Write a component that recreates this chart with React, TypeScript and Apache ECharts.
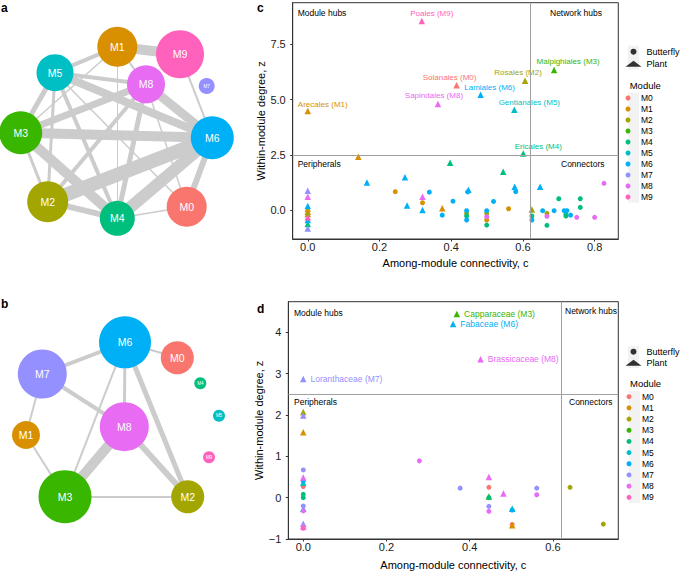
import React, { useEffect, useRef } from "react";
import * as echarts from "echarts";

// ---------- data ----------
const MODULES = ["M0", "M1", "M2", "M3", "M4", "M5", "M6", "M7", "M8", "M9"];
const MODULE_COLORS = ["#F8766D", "#D89000", "#A3A500", "#39B600", "#00BF7D", "#00BFC4", "#00B0F6", "#9590FF", "#E76BF3", "#FF62BC"];

// panel c: [module, among-module connectivity c, within-module degree z]
const cButterflies: [string, number, number][] = [
  ["M1", 0.244, 0.83], ["M1", 0.32, 0.33], ["M6", 0.339, 0.81], ["M6", 0.375, -0.23],
  ["M6", 0.405, 0.4], ["M6", 0.446, 0.82], ["M6", 0.443, -0.03], ["M2", 0.443, -0.15],
  ["M4", 0.443, -0.27], ["M6", 0.443, -0.45], ["M6", 0.518, 0.39], ["M6", 0.499, -0.03],
  ["M2", 0.499, -0.15], ["M8", 0.499, -0.3], ["M1", 0.499, -0.45], ["M4", 0.499, -0.68],
  ["M1", 0.56, 0.06], ["M6", 0.58, 0.83], ["M4", 0.625, -0.27], ["M6", 0.625, -0.45],
  ["M6", 0.655, -0.03], ["M2", 0.667, -0.15], ["M8", 0.667, -0.28], ["M4", 0.667, -0.69],
  ["M6", 0.687, -0.03], ["M4", 0.7, 0.51], ["M6", 0.715, -0.03], ["M6", 0.723, -0.03],
  ["M4", 0.72, -0.2], ["M4", 0.72, -0.27], ["M6", 0.733, -0.23], ["M8", 0.75, -0.33],
  ["M4", 0.76, 0.51], ["M4", 0.76, 0.12], ["M8", 0.8, -0.33], ["M8", 0.826, 1.21],
];
const cPlants: [string, number, number][] = [
  ["M1", 0.141, 2.41], ["M6", 0.165, 1.25], ["M6", 0.271, 1.48], ["M6", 0.277, 0.21],
  ["M8", 0.32, 0.6], ["M6", 0.32, 0.0], ["M1", 0.375, 0.08], ["M4", 0.397, 2.14],
  ["M6", 0.448, 0.92], ["M4", 0.545, 1.73], ["M6", 0.577, 1.05], ["M2", 0.625, 0.02],
  ["M6", 0.648, 1.05],
  ["M7", 0, 0.87], ["M8", 0, 0.6], ["M6", 0, 0.18], ["M1", 0, 0.05], ["M1", 0, -0.08],
  ["M2", 0, -0.18], ["M9", 0, -0.33], ["M6", 0, -0.45], ["M4", 0, -0.63], ["M7", 0, -0.83],
];
const cHubPlants: [string, number, number, string][] = [
  ["M9", 0.318, 8.55, "Poales (M9)"],
  ["M3", 0.687, 6.33, "Malpighiales (M3)"],
  ["M2", 0.606, 5.85, "Rosales (M2)"],
  ["M0", 0.415, 5.64, "Solanales (M0)"],
  ["M6", 0.482, 5.22, "Lamiales (M6)"],
  ["M8", 0.363, 4.8, "Sapindales (M8)"],
  ["M1", 0, 4.48, "Arecales (M1)"],
  ["M5", 0.576, 4.54, "Gentianales (M5)"],
  ["M4", 0.601, 2.56, "Ericales (M4)"],
];

// panel d
const dButterflies: [string, number, number][] = [
  ["M7", 0, 0.67], ["M6", 0, 0.4], ["M0", 0, 0.27], ["M4", 0, 0.08], ["M4", 0, 0.0],
  ["M7", 0, -0.2], ["M8", 0, -0.32], ["M9", 0, -0.74],
  ["M8", 0.279, 0.89], ["M7", 0.377, 0.23], ["M0", 0.446, 0.25], ["M4", 0.446, 0.0],
  ["M7", 0.446, -0.21], ["M8", 0.446, -0.33], ["M6", 0.502, -0.3], ["M0", 0.502, -0.65],
  ["M7", 0.561, 0.23], ["M8", 0.561, 0.07], ["M2", 0.641, 0.25], ["M2", 0.721, -0.64],
];
const dPlants: [string, number, number][] = [
  ["M2", 0, 2.07], ["M7", 0, 1.99], ["M1", 0, 1.58], ["M8", 0, 0.49], ["M5", 0, 0.36],
  ["M5", 0, -0.27], ["M7", 0, -0.63], ["M8", 0, -0.7],
  ["M8", 0.446, 0.5], ["M3", 0.446, 0.03], ["M8", 0.481, 0.1], ["M5", 0.502, -0.27],
  ["M1", 0.502, -0.67],
];
const dHubPlants: [string, number, number, string][] = [
  ["M3", 0.369, 4.44, "Capparaceae (M3)"],
  ["M6", 0.36, 4.2, "Fabaceae (M6)"],
  ["M8", 0.426, 3.35, "Brassicaceae (M8)"],
  ["M7", 0, 2.87, "Loranthaceae (M7)"],
];

const C_TICKS_X = [0, 0.2, 0.4, 0.6, 0.8];
const C_TICKS_Y = [0, 2.5, 5, 7.5];
const D_TICKS_X = [0, 0.2, 0.4, 0.6];
const D_TICKS_Y = [-1, 0, 1, 2, 3, 4];
const C_THRESHOLD = 0.62;
const Z_THRESHOLD = 2.5;

// module networks: [module, layout x, layout y, module size]
const netANodes: [string, number, number, number][] = [
  ["M1", 117.3, 46.7, 40], ["M9", 180, 54.3, 48], ["M5", 55, 72.7, 37], ["M8", 146, 84.3, 38],
  ["M7", 206.7, 86, 16], ["M3", 20.7, 132.7, 43], ["M6", 212.3, 137.7, 43], ["M2", 47.7, 201.7, 41],
  ["M4", 117.3, 218.3, 35], ["M0", 186.7, 206.7, 40],
];
// [source, target, link strength]
const netALinks: [string, string, number][] = [
  ["M1", "M9", 10], ["M1", "M5", 4], ["M1", "M3", 1.5], ["M1", "M4", 1], ["M1", "M8", 2],
  ["M5", "M3", 5], ["M5", "M2", 3], ["M5", "M4", 4], ["M5", "M0", 1.5], ["M5", "M8", 4],
  ["M5", "M6", 8], ["M3", "M8", 7], ["M3", "M6", 10], ["M3", "M4", 10], ["M3", "M2", 3],
  ["M2", "M8", 4], ["M2", "M6", 14], ["M2", "M4", 6], ["M4", "M8", 5], ["M4", "M6", 12],
  ["M4", "M0", 1.5], ["M8", "M6", 9], ["M8", "M0", 1.5], ["M6", "M0", 6], ["M6", "M9", 2],
];
const netBNodes: [string, number, number, number][] = [
  ["M6", 125, 62.3, 52], ["M0", 177.3, 77.7, 33], ["M7", 42.3, 94, 49], ["M4", 200.3, 103.3, 12],
  ["M5", 219, 135.7, 12], ["M8", 124.3, 146.7, 49], ["M1", 26, 155, 28], ["M9", 209, 177.3, 12],
  ["M3", 65, 216.7, 53], ["M2", 187.7, 216.7, 33],
];
const netBLinks: [string, string, number][] = [
  ["M6", "M7", 4], ["M6", "M0", 2], ["M6", "M8", 3], ["M6", "M3", 2], ["M6", "M2", 5],
  ["M7", "M8", 4], ["M7", "M1", 2], ["M1", "M3", 2], ["M8", "M3", 10], ["M8", "M2", 6],
  ["M3", "M2", 2],
];

// ---------- styling / placement ----------
const FONT = "'Liberation Sans', Arial, Helvetica, sans-serif";
const colorOf = (m: string) => MODULE_COLORS[MODULES.indexOf(m)];
const C_LABEL_NUDGE: Record<string, [number, number]> = {
  "Poales (M9)": [10, -8],
  "Malpighiales (M3)": [14, -9],
  "Rosales (M2)": [-7, -8],
  "Solanales (M0)": [-7, -8],
  "Lamiales (M6)": [9, -7],
  "Sapindales (M8)": [-4, -8],
  "Arecales (M1)": [15, -7],
  "Gentianales (M5)": [15, -7],
  "Ericales (M4)": [15, -7],
};
const CIRCLE = 5;
const TRI = 6.5;

function panelSeries(
  axis: number,
  butterflies: [string, number, number][],
  plants: [string, number, number][],
  hubs: [string, number, number, string][],
  labelMode: "nudge" | "right"
) {
  return MODULES.map((m) => {
    const col = colorOf(m);
    const data: any[] = [];
    butterflies.filter((d) => d[0] === m).forEach((d) => data.push({ value: [d[1], d[2]], symbol: "circle", symbolSize: CIRCLE }));
    plants.filter((d) => d[0] === m).forEach((d) => data.push({ value: [d[1], d[2]], symbol: "triangle", symbolSize: TRI }));
    hubs.filter((d) => d[0] === m).forEach((d) => {
      const label =
        labelMode === "nudge"
          ? { show: true, formatter: d[3], position: "inside", offset: C_LABEL_NUDGE[d[3]] || [0, -8], color: col, fontSize: 8, fontFamily: FONT }
          : { show: true, formatter: d[3], position: "right", distance: 4, color: col, fontSize: 8.5, fontFamily: FONT };
      data.push({ value: [d[1], d[2]], symbol: "triangle", symbolSize: TRI, label });
    });
    return {
      type: "scatter",
      name: m,
      xAxisIndex: axis,
      yAxisIndex: axis,
      data,
      itemStyle: { color: col, opacity: 1 },
      emphasis: { disabled: true },
      silent: true,
      z: 3,
    };
  });
}

function thresholdSeries(axis: number) {
  return {
    type: "scatter",
    name: "thresholds" + axis,
    xAxisIndex: axis,
    yAxisIndex: axis,
    data: [],
    silent: true,
    z: 1,
    markLine: {
      silent: true,
      symbol: "none",
      label: { show: false },
      lineStyle: { color: "#a0a0a0", width: 1, type: "solid" },
      emphasis: { disabled: true },
      data: [{ xAxis: C_THRESHOLD }, { yAxis: Z_THRESHOLD }],
    },
  };
}

function networkSeries(axis: number, nodes: [string, number, number, number][], links: [string, string, number][]) {
  return {
    type: "graph",
    coordinateSystem: "cartesian2d",
    xAxisIndex: axis,
    yAxisIndex: axis,
    layout: "none",
    silent: true,
    z: 2,
    data: nodes.map(([name, x, y, size]) => ({
      name,
      value: [x, y],
      symbolSize: size,
      itemStyle: { color: colorOf(name) },
      label: { fontSize: size < 20 ? 4.5 : 10.5 },
    })),
    links: links.map(([s, t, w]) => ({ source: s, target: t, lineStyle: { width: w } })),
    label: { show: true, position: "inside", color: "#ffffff", formatter: "{b}", fontFamily: FONT },
    lineStyle: { color: "#cccccc", opacity: 1, curveness: 0 },
    emphasis: { disabled: true },
  };
}

function valueAxis(grid: number, min: number, max: number, ticks: number[], fmt: (v: number) => string, name: string, nameGap: number, margin: number) {
  return {
    type: "value",
    gridIndex: grid,
    min,
    max,
    name,
    nameLocation: "middle",
    nameGap,
    nameTextStyle: { fontSize: 11, color: "#000", fontFamily: FONT },
    axisLine: { show: true, onZero: false, lineStyle: { color: "#333", width: 1 } },
    axisTick: { show: true, length: 2.5, lineStyle: { color: "#333" }, customValues: ticks },
    axisLabel: { customValues: ticks, formatter: fmt, fontSize: 11, color: "#1a1a1a", margin, fontFamily: FONT },
    splitLine: { show: false },
  };
}

function hiddenAxis(grid: number, inverse: boolean) {
  return { type: "value", gridIndex: grid, min: 0, max: 240, inverse, show: false, splitLine: { show: false } };
}

function legendPair(left: number, top: number, pitch: number) {
  return {
    orient: "vertical",
    left,
    top,
    padding: 0,
    itemWidth: 16,
    itemHeight: 6,
    itemGap: 0,
    selectedMode: false,
    textStyle: { fontSize: 9, lineHeight: pitch, color: "#000", fontFamily: FONT },
    data: [
      { name: "Butterfly", icon: "circle" },
      { name: "Plant", icon: "triangle" },
    ],
  };
}
function legendModules(left: number, top: number, pitch: number) {
  return {
    orient: "vertical",
    left,
    top,
    padding: 0,
    itemWidth: 16,
    itemHeight: 5,
    itemGap: 0,
    selectedMode: false,
    textStyle: { fontSize: 8.5, lineHeight: pitch, color: "#000", fontFamily: FONT },
    data: MODULES.map((n) => ({ name: n, icon: "circle" })),
  };
}

function txt(text: string, x: number, y: number, size: number, bold = false) {
  return {
    type: "text",
    x,
    y,
    silent: true,
    style: { text, fontSize: size, fontFamily: FONT, fontWeight: bold ? "bold" : "normal", fill: "#000", align: "left", verticalAlign: "middle" },
  };
}
function keyBg(x: number, y: number, h: number) {
  return { type: "rect", shape: { x, y, width: 11, height: h }, style: { fill: "#f2f2f2" }, silent: true, z: 0 };
}

export default function App() {
  const ref = useRef<HTMLDivElement>(null);
  useEffect(() => {
    document.body.style.margin = "0";
    if (!ref.current) return;
    const chart = echarts.init(ref.current, undefined, { renderer: "svg" });
    const fmt1 = (v: number) => v.toFixed(1);
    const fmtInt = (v: number) => (v < 0 ? "\u2212" + Math.abs(v) : String(v));
    const option: any = {
      animation: false,
      backgroundColor: "#ffffff",
      textStyle: { fontFamily: FONT },
      grid: [
        { left: 292.7, top: 2.7, width: 325.6, height: 236.3, show: true, borderColor: "#333", borderWidth: 1, backgroundColor: "#fff" },
        { left: 288.3, top: 301.7, width: 330, height: 237.3, show: true, borderColor: "#333", borderWidth: 1, backgroundColor: "#fff" },
        { left: 0, top: 0, width: 240, height: 240 },
        { left: 0, top: 280, width: 240, height: 240 },
      ],
      xAxis: [
        valueAxis(0, -0.042, 0.866, C_TICKS_X, fmt1, "Among-module connectivity, c", 18, 2),
        valueAxis(1, -0.036, 0.757, D_TICKS_X, fmt1, "Among-module connectivity, c", 20, 2),
        hiddenAxis(2, false),
        hiddenAxis(3, false),
      ],
      yAxis: [
        valueAxis(0, -1.31, 9.38, C_TICKS_Y, fmt1, "Within-module degree, z", 21, 7),
        valueAxis(1, -1.0, 4.74, D_TICKS_Y, fmtInt, "Within-module degree, z", 17, 7),
        hiddenAxis(2, true),
        hiddenAxis(3, true),
      ],
      legend: [
        legendPair(625.5, 45.7, 12),
        legendModules(625.5, 92.5, 11),
        legendPair(625.5, 346.2, 11),
        legendModules(626.5, 391.1, 11.18),
      ],
      graphic: [
        keyBg(628, 45.7, 24),
        keyBg(628, 92.5, 110),
        keyBg(628, 346.2, 22),
        keyBg(629, 391.1, 111.8),
        txt("a", 1, 8, 12, true),
        txt("b", 1, 304, 12, true),
        txt("c", 257, 8, 12, true),
        txt("d", 257, 309, 12, true),
        txt("Module hubs", 297.7, 12.7, 8.5),
        txt("Network hubs", 550, 13.3, 8.5),
        txt("Peripherals", 297.7, 164.3, 8.5),
        txt("Connectors", 561, 164.3, 8.5),
        txt("Module hubs", 294, 312.7, 8.5),
        txt("Network hubs", 565, 310.7, 8.5),
        txt("Peripherals", 294, 402.3, 8.5),
        txt("Connectors", 569, 402.3, 8.5),
        txt("Module", 629.7, 85, 9.5),
        txt("Module", 630, 383.3, 9.5),
      ],
      series: [
        thresholdSeries(0),
        thresholdSeries(1),
        ...panelSeries(0, cButterflies, cPlants, cHubPlants, "nudge"),
        ...panelSeries(1, dButterflies, dPlants, dHubPlants, "right"),
        { type: "scatter", name: "Butterfly", xAxisIndex: 0, yAxisIndex: 0, data: [], symbol: "circle", itemStyle: { color: "#000" } },
        { type: "scatter", name: "Plant", xAxisIndex: 0, yAxisIndex: 0, data: [], symbol: "triangle", itemStyle: { color: "#000" } },
        networkSeries(2, netANodes, netALinks),
        networkSeries(3, netBNodes, netBLinks),
      ],
    };
    chart.setOption(option);
    return () => chart.dispose();
  }, []);
  return <div ref={ref} style={{ width: 681, height: 578 }} />;
}
